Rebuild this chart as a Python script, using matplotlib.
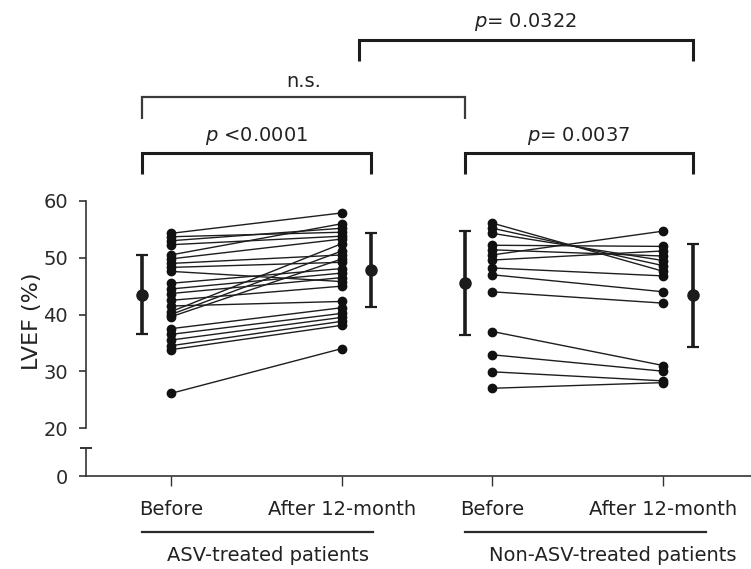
import matplotlib
matplotlib.use('Agg')
import matplotlib.pyplot as plt

plt.rcParams['font.family'] = ['DejaVu Sans']
plt.rcParams['mathtext.fontset'] = 'dejavusans'

# ---------------- data ----------------
group_labels = ['ASV-treated patients', 'Non-ASV-treated patients']
time_labels = ['Before', 'After 12-month', 'Before', 'After 12-month']

asv_before = [54.3, 53.7, 53.0, 52.3, 50.5, 49.8, 49.0, 48.3, 47.6,
              45.5, 44.5, 43.7, 42.5, 41.5, 40.5, 40.0, 39.6,
              37.5, 36.5, 35.5, 34.5, 33.8, 26.1]
asv_after = [57.9, 54.5, 55.2, 53.8, 56.0, 53.3, 50.5, 49.2, 45.8,
             48.1, 47.3, 46.5, 45.0, 42.3, 52.5, 51.2, 49.8,
             41.2, 40.2, 39.5, 38.8, 38.1, 34.0]

non_before = [56.1, 55.2, 54.3, 52.2, 51.4, 50.5, 49.6, 48.2, 47.0,
              44.0, 37.0, 32.9, 29.9, 27.0]
non_after = [47.6, 48.6, 49.5, 52.0, 50.3, 54.7, 51.2, 46.8, 44.0,
             42.0, 31.0, 30.0, 28.3, 28.0]

mean_vals = [43.5, 47.9, 45.6, 43.4]
sd_vals = [6.95, 6.5, 9.15, 9.1]

comparisons = ['$p$ <0.0001', 'n.s.', '$p$= 0.0322', '$p$= 0.0037']

# ---------------- layout ----------------
W, H = 751, 569
fig = plt.figure(figsize=(W / 100, H / 100), dpi=100)


def fy(px):
    return 1 - px / H


x_pos = [1.0, 2.0, 2.88, 3.88]
mean_off = [-0.17, 0.17, -0.16, 0.17]
xlim = (0.503, 4.392)
dark = '#1c1c1c'

ax = fig.add_axes([86 / W, fy(428), (W - 86) / W, (428 - 201) / H])
axl = fig.add_axes([86 / W, fy(476), (W - 86) / W, (476 - 448) / H])
for a in (ax, axl):
    a.set_xlim(*xlim)
    a.spines['top'].set_visible(False)
    a.spines['right'].set_visible(False)
    a.patch.set_alpha(0)

ax.set_ylim(20, 60)
ax.spines['bottom'].set_visible(False)
ax.spines['left'].set_bounds(20, 60)
ax.spines['left'].set_linewidth(1.2)
ax.spines['left'].set_color('#333333')
ax.set_yticks([20, 30, 40, 50, 60])
ax.tick_params(axis='y', direction='out', length=5, width=1.2, labelsize=14,
               pad=8, colors='#333333', labelcolor='#2a2a2a')
ax.tick_params(axis='x', bottom=False, labelbottom=False)
ax.set_ylabel('LVEF (%)', fontsize=16, color='#222222')
ax.yaxis.set_label_coords(-0.066, 0.47)

axl.set_ylim(0, 5)
axl.spines['left'].set_bounds(0, 5)
axl.spines['left'].set_linewidth(1.2)
axl.spines['left'].set_color('#333333')
axl.spines['bottom'].set_linewidth(1.2)
axl.spines['bottom'].set_color('#333333')
axl.set_yticks([0])
axl.tick_params(axis='y', direction='out', length=5, width=1.2, labelsize=14,
                pad=8, colors='#333333', labelcolor='#2a2a2a')
axl.set_xticks(x_pos)
axl.set_xticklabels(time_labels)
axl.tick_params(axis='x', direction='out', length=7, width=1.0, labelsize=14,
                pad=10, colors='#333333', labelcolor='#222222')
# cap at the top of the lower axis segment
axl.plot([xlim[0]], [5], marker='_', markersize=9, markeredgewidth=1.4,
         color='#333333', clip_on=False)

# ---------------- paired lines ----------------
pairs = [(asv_before, asv_after, x_pos[0], x_pos[1]),
         (non_before, non_after, x_pos[2], x_pos[3])]
for before, after, x0, x1 in pairs:
    for b, a in zip(before, after):
        ax.plot([x0, x1], [b, a], '-', color='#1e1e1e', lw=1.0,
                marker='o', ms=6, mfc='#111111', mec='#111111',
                clip_on=False, zorder=3)

# ---------------- mean +/- SD ----------------
for x, o, m, s in zip(x_pos, mean_off, mean_vals, sd_vals):
    ax.errorbar(x + o, m, yerr=s, fmt='o', ms=8, color=dark,
                elinewidth=2.6, capsize=4.5, capthick=1.6, zorder=4)

# ---------------- significance brackets ----------------
mx = [x + o for x, o in zip(x_pos, mean_off)]
brackets = [
    (mx[0], mx[1], 68.5, 64.8, 2.2, dark),
    (mx[0], mx[2], 78.3, 74.4, 1.6, '#3a3a3a'),
    (2.10, mx[3], 88.4, 84.7, 2.2, dark),
    (mx[2], mx[3], 68.5, 64.8, 2.2, dark),
]
text_y = [71.4, 81.1, 91.6, 71.4]
for (x1, x2, lev, drop, lw, c), lab, ty in zip(brackets, comparisons, text_y):
    ax.plot([x1, x1, x2, x2], [drop, lev, lev, drop], color=c, lw=lw,
            clip_on=False, solid_joinstyle='miter', solid_capstyle='butt')
    ax.text((x1 + x2) / 2, ty, lab, ha='center', va='center', fontsize=14,
            color='#222222', clip_on=False)

# ---------------- group labels ----------------
group_spans = [(mx[0], 2.18), (2.72, 4.13)]
group_text_x = [1.57, 3.585]
for (g1, g2), lab, tx in zip(group_spans, group_labels, group_text_x):
    axl.plot([g1, g2], [-10, -10], color='#2a2a2a', lw=1.6, clip_on=False)
    axl.text(tx, -14.2, lab, ha='center', va='center', fontsize=14,
             color='#222222', clip_on=False)

fig.savefig('out.png', dpi=100)
